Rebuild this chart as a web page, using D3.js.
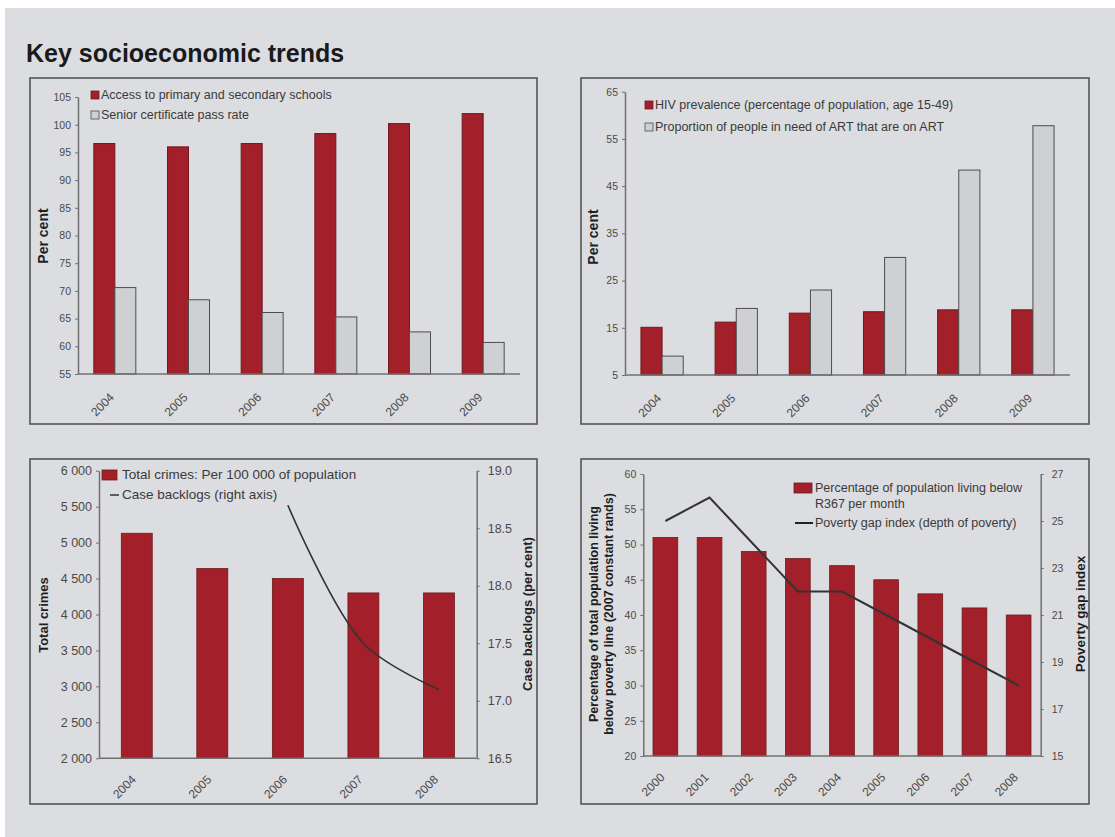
<!DOCTYPE html>
<html>
<head>
<meta charset="utf-8">
<script src="https://cdn.jsdelivr.net/npm/d3@7/dist/d3.min.js"></script>
<style>
  body { margin: 0; background: #fff; }
  text { font-family: "Liberation Sans", Arial, sans-serif; fill: #3a3a3a; }
</style>
</head>
<body>
<svg id="chart" width="1115" height="837"></svg>
<script>
// education
const eduYears = ["2004", "2005", "2006", "2007", "2008", "2009"];
const schoolAccess = [96.6, 96.0, 96.6, 98.4, 100.2, 102.0];
const passRate = [70.6, 68.4, 66.1, 65.3, 62.6, 60.7];
const eduTicks = [55, 60, 65, 70, 75, 80, 85, 90, 95, 100, 105];

// health
const hivYears = ["2004", "2005", "2006", "2007", "2008", "2009"];
const hivPrevalence = [15.1, 16.2, 18.1, 18.4, 18.8, 18.8];
const artCoverage = [9.0, 19.1, 23.0, 29.9, 48.4, 57.8];
const hivTicks = [5, 15, 25, 35, 45, 55, 65];

// crime
const crimeYears = ["2004", "2005", "2006", "2007", "2008"];
const totalCrimes = [5130, 4640, 4500, 4300, 4300];
const caseBacklogs = [null, null, 18.7, 17.5, 17.1];
const crimeTicks = [2000, 2500, 3000, 3500, 4000, 4500, 5000, 5500, 6000];
const backlogTicks = [16.5, 17.0, 17.5, 18.0, 18.5, 19.0];

// poverty
const povertyYears = ["2000", "2001", "2002", "2003", "2004", "2005", "2006", "2007", "2008"];
const belowPovertyLine = [51, 51, 49, 48, 47, 45, 43, 41, 40];
const povertyGap = [25, 26, 24, 22, 22, 21, 20, 19, 18];
const povertyTicks = [20, 25, 30, 35, 40, 45, 50, 55, 60];
const gapTicks = [15, 17, 19, 21, 23, 25, 27];

const RED = "#a3202a";
const RED_EDGE = "#6e1a1e";
const GREY = "#cfd0d4";
const GREY_EDGE = "#4d4d4d";
const BG = "#dcdde0";

const svg = d3.select("#chart");

// page background
svg.append("rect").attr("x", 5).attr("y", 8).attr("width", 1110).attr("height", 829).attr("fill", BG);

svg.append("text")
  .attr("x", 26).attr("y", 62)
  .attr("font-size", 25).attr("font-weight", "bold")
  .style("fill", "#1a1a1a")
  .text("Key socioeconomic trends");

function drawBox(x, y, w, h) {
  svg.append("rect")
    .attr("x", x).attr("y", y).attr("width", w).attr("height", h)
    .attr("fill", BG).attr("stroke", "#555").attr("stroke-width", 1.6);
}

function styleAxis(g, size) {
  g.select(".domain").attr("stroke", "#707070").attr("stroke-width", 1.5);
  g.selectAll(".tick line").attr("stroke", "#707070");
  g.selectAll(".tick text")
    .attr("font-size", size)
    .style("fill", "#4a4a4a");
}

function xLabels(g, x, years, bottom, dy, size) {
  g.selectAll(".xlab")
    .data(years)
    .join("text")
    .attr("class", "xlab")
    .attr("text-anchor", "end")
    .attr("font-size", size)
    .style("fill", "#4a4a4a")
    .attr("transform", d => `translate(${x(d) + x.bandwidth() / 2},${bottom + dy}) rotate(-45)`)
    .text(d => d);
}

function axisTitle(x, y, label, size) {
  svg.append("text")
    .attr("transform", `translate(${x},${y}) rotate(-90)`)
    .attr("text-anchor", "middle")
    .attr("font-size", size)
    .attr("font-weight", "bold")
    .style("fill", "#1f1f1f")
    .text(label);
}

// grouped bar chart (two series)
function groupedBars(opts) {
  const { left, right, top, bottom } = opts.plot;
  const x = d3.scaleBand().domain(opts.years).range([left, right])
    .paddingInner(opts.pad).paddingOuter(opts.pad / 2);
  const x1 = d3.scaleBand().domain([0, 1]).range([0, x.bandwidth()]);
  const y = d3.scaleLinear().domain(opts.domain).range([bottom, top]);

  const g = svg.append("g");
  opts.series.forEach((s, si) => {
    g.append("g").selectAll("rect")
      .data(s.values)
      .join("rect")
      .attr("x", (d, i) => x(opts.years[i]) + x1(si))
      .attr("y", d => y(d))
      .attr("width", x1.bandwidth())
      .attr("height", d => y(opts.domain[0]) - y(d))
      .attr("fill", s.fill)
      .attr("stroke", s.stroke)
      .attr("stroke-width", 1);
  });

  const ya = g.append("g")
    .attr("transform", `translate(${left},0)`)
    .call(d3.axisLeft(y).tickValues(opts.ticks).tickSize(3).tickSizeOuter(0).tickPadding(4));
  styleAxis(ya, 10.5);

  g.append("line")
    .attr("x1", left).attr("x2", right)
    .attr("y1", bottom).attr("y2", bottom)
    .attr("stroke", "#707070").attr("stroke-width", 1.5);

  xLabels(g, x, opts.years, bottom, 24, 12);
  return { x, y };
}

function squareLegend(x, y, items, size, gap) {
  items.forEach((it, i) => {
    svg.append("rect")
      .attr("x", x).attr("y", y + i * gap - 8)
      .attr("width", 8).attr("height", 8)
      .attr("fill", it.fill).attr("stroke", it.stroke).attr("stroke-width", 0.8);
    svg.append("text")
      .attr("x", x + 10).attr("y", y + i * gap)
      .attr("font-size", size)
      .text(it.label);
  });
}

// ---------- Panel 1: schools ----------
drawBox(30, 78, 507, 346);
groupedBars({
  plot: { left: 78, right: 520, top: 97, bottom: 374 },
  years: eduYears,
  domain: [55, 105],
  ticks: eduTicks,
  pad: 0.43,
  series: [
    { values: schoolAccess, fill: RED, stroke: RED_EDGE },
    { values: passRate, fill: GREY, stroke: GREY_EDGE }
  ]
});
axisTitle(48, 236, "Per cent", 14);
squareLegend(91, 99, [
  { label: "Access to primary and secondary schools", fill: RED, stroke: RED_EDGE },
  { label: "Senior certificate pass rate", fill: GREY, stroke: GREY_EDGE }
], 12.5, 20);

// ---------- Panel 2: HIV ----------
drawBox(581, 78, 508, 346);
groupedBars({
  plot: { left: 625, right: 1070, top: 91.7, bottom: 375 },
  years: hivYears,
  domain: [5, 65],
  ticks: hivTicks,
  pad: 0.43,
  series: [
    { values: hivPrevalence, fill: RED, stroke: RED_EDGE },
    { values: artCoverage, fill: GREY, stroke: GREY_EDGE }
  ]
});
axisTitle(598, 237, "Per cent", 14);
squareLegend(645, 109, [
  { label: "HIV prevalence (percentage of population, age 15-49)", fill: RED, stroke: RED_EDGE },
  { label: "Proportion of people in need of ART that are on ART", fill: GREY, stroke: GREY_EDGE }
], 12.5, 22);

// bars + line on a right axis
function barLine(opts) {
  const { left, right, top, bottom } = opts.plot;
  const x = d3.scaleBand().domain(opts.years).range([left, right])
    .paddingInner(opts.pad).paddingOuter(opts.pad / 2);
  const y = d3.scaleLinear().domain(opts.domain).range([bottom, top]);
  const y2 = d3.scaleLinear().domain(opts.domain2).range([bottom, top]);
  const g = svg.append("g");

  g.append("g").selectAll("rect")
    .data(opts.bars)
    .join("rect")
    .attr("x", (d, i) => x(opts.years[i]))
    .attr("y", d => y(d))
    .attr("width", x.bandwidth())
    .attr("height", d => y(opts.domain[0]) - y(d))
    .attr("fill", RED)
    .attr("stroke", RED_EDGE)
    .attr("stroke-width", 0.8);

  const ya = g.append("g")
    .attr("transform", `translate(${left},0)`)
    .call(d3.axisLeft(y).tickValues(opts.ticks).tickFormat(opts.fmt).tickSize(3).tickSizeOuter(0).tickPadding(4));
  styleAxis(ya, opts.tickSize);

  const yb = g.append("g")
    .attr("transform", `translate(${right},0)`)
    .call(d3.axisRight(y2).tickValues(opts.ticks2).tickFormat(opts.fmt2).tickSize(3).tickSizeOuter(0).tickPadding(8));
  styleAxis(yb, opts.tickSize);

  g.append("line")
    .attr("x1", left).attr("x2", right)
    .attr("y1", bottom).attr("y2", bottom)
    .attr("stroke", "#707070").attr("stroke-width", 1.5);

  const line = d3.line()
    .defined(d => d != null)
    .x((d, i) => x(opts.years[i]) + x.bandwidth() / 2)
    .y(d => y2(d))
    .curve(opts.curve);

  g.append("path")
    .attr("d", line(opts.lineValues))
    .attr("fill", "none")
    .attr("stroke", "#333")
    .attr("stroke-width", opts.lineWidth);

  xLabels(g, x, opts.years, bottom, opts.labelDy, 12);
  return { x, y, y2 };
}

// ---------- Panel 3: crime ----------
drawBox(30, 459, 507, 345);
const spaceThousands = d => d3.format(",")(d).replace(",", " ");
barLine({
  plot: { left: 99, right: 476.7, top: 470.7, bottom: 758.3 },
  years: crimeYears,
  bars: totalCrimes,
  lineValues: caseBacklogs,
  domain: [2000, 6000],
  ticks: crimeTicks,
  fmt: spaceThousands,
  domain2: [16.5, 19.0],
  ticks2: backlogTicks,
  fmt2: d3.format(".1f"),
  pad: 0.59,
  tickSize: 12.5,
  curve: d3.curveCatmullRom.alpha(0.5),
  lineWidth: 1.6,
  labelDy: 22
});
axisTitle(48, 615, "Total crimes", 13);
axisTitle(532, 614, "Case backlogs (per cent)", 13);

svg.append("rect").attr("x", 102).attr("y", 470).attr("width", 15).attr("height", 10)
  .attr("fill", RED).attr("stroke", RED_EDGE).attr("stroke-width", 0.8);
svg.append("text").attr("x", 122).attr("y", 479).attr("font-size", 13.5)
  .text("Total crimes: Per 100 000 of population");
svg.append("line").attr("x1", 110).attr("x2", 119).attr("y1", 495).attr("y2", 495)
  .attr("stroke", "#333").attr("stroke-width", 1.5);
svg.append("text").attr("x", 122).attr("y", 499).attr("font-size", 13.5)
  .text("Case backlogs (right axis)");

// ---------- Panel 4: poverty ----------
drawBox(581, 459, 508, 345);
barLine({
  plot: { left: 643.3, right: 1040.7, top: 474, bottom: 756 },
  years: povertyYears,
  bars: belowPovertyLine,
  lineValues: povertyGap,
  domain: [20, 60],
  ticks: povertyTicks,
  fmt: d3.format("d"),
  domain2: [15, 27],
  ticks2: gapTicks,
  fmt2: d3.format("d"),
  pad: 0.44,
  tickSize: 10.5,
  curve: d3.curveLinear,
  lineWidth: 2,
  labelDy: 22
});
const povTitle = svg.append("text")
  .attr("transform", "translate(598,614) rotate(-90)")
  .attr("text-anchor", "middle")
  .attr("font-size", 12.5)
  .attr("font-weight", "bold")
  .style("fill", "#1f1f1f");
povTitle.append("tspan").attr("x", 0).attr("y", 0).text("Percentage of total population living");
povTitle.append("tspan").attr("x", 0).attr("y", 15).text("below poverty line (2007 constant rands)");
axisTitle(1085, 614, "Poverty gap index", 13.5);

svg.append("rect").attr("x", 794).attr("y", 483).attr("width", 18).attr("height", 10)
  .attr("fill", RED).attr("stroke", RED_EDGE).attr("stroke-width", 0.8);
svg.append("text").attr("x", 815).attr("y", 492).attr("font-size", 12.5)
  .text("Percentage of population living below");
svg.append("text").attr("x", 815).attr("y", 508).attr("font-size", 12.5)
  .text("R367 per month");
svg.append("line").attr("x1", 795).attr("x2", 813).attr("y1", 523).attr("y2", 523)
  .attr("stroke", "#222").attr("stroke-width", 2);
svg.append("text").attr("x", 815).attr("y", 527).attr("font-size", 12.5)
  .text("Poverty gap index (depth of poverty)");
</script>
</body>
</html>
